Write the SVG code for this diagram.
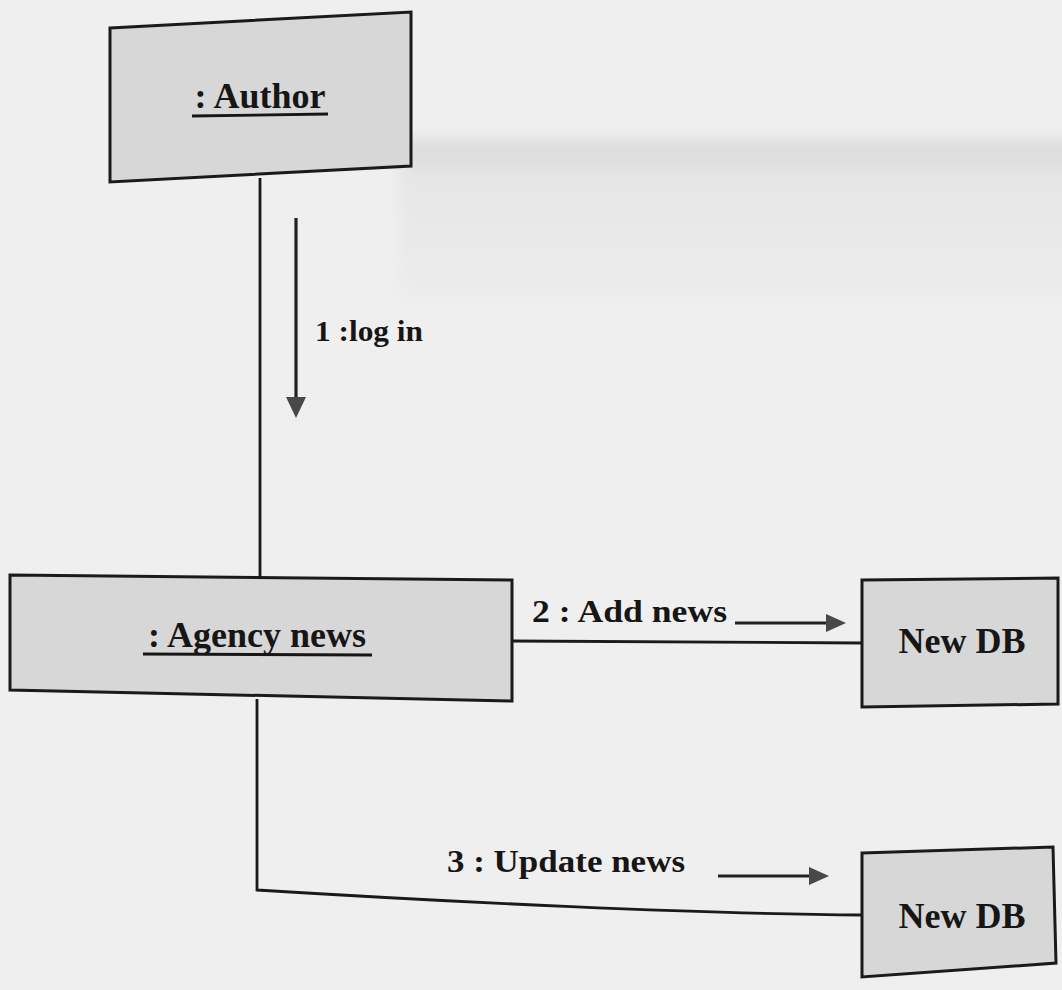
<svg xmlns="http://www.w3.org/2000/svg" width="1062" height="990" viewBox="0 0 1062 990">
  <style>
    .box { fill: #d7d7d7; stroke: #1a1a1a; stroke-width: 3; stroke-linejoin: miter; }
    .link { fill: none; stroke: #1a1a1a; stroke-width: 2.8; }
    .msg { fill: none; stroke: #222222; stroke-width: 3.2; }
    .head { fill: #484848; }
    .name { font-family: "Liberation Serif", "Times New Roman", serif; font-weight: bold; fill: #161616; }
    .label { font-family: "Liberation Serif", "Times New Roman", serif; font-weight: bold; fill: #161616; }
    .uline { stroke: #161616; stroke-width: 2.8; }
  </style>
  <defs>
    <filter id="soft" x="-10%" y="-50%" width="120%" height="200%">
      <feGaussianBlur stdDeviation="8"/>
    </filter>
    <linearGradient id="band" x1="0" y1="0" x2="0" y2="1">
      <stop offset="0" stop-color="#d9d9d9"/>
      <stop offset="0.25" stop-color="#e6e6e6"/>
      <stop offset="1" stop-color="#ececec"/>
    </linearGradient>
  </defs>

  <!-- page -->
  <rect x="0" y="0" width="1062" height="990" fill="#efefef"/>
  <rect x="400" y="140" width="680" height="160" fill="url(#band)" filter="url(#soft)"/>

  <!-- connectors -->
  <g id="connectors">
    <line class="link" x1="260" y1="178" x2="260" y2="578"/>
    <line class="link" x1="512" y1="641" x2="862" y2="643"/>
    <path class="link" d="M257,699 V890 C 450,902 700,914 862,915"/>

    <!-- message 1 -->
    <line class="msg" x1="296" y1="218" x2="296" y2="398"/>
    <polygon class="head" points="286,397 306,397 296,418"/>
    <text class="label" x="315" y="341" font-size="30" textLength="108" lengthAdjust="spacingAndGlyphs">1 :log in</text>

    <!-- message 2 -->
    <text class="label" x="532" y="622" font-size="32" textLength="195" lengthAdjust="spacingAndGlyphs">2 : Add news</text>
    <line class="msg" x1="735" y1="623" x2="828" y2="623"/>
    <polygon class="head" points="826,614 846,623 826,632"/>

    <!-- message 3 -->
    <text class="label" x="447" y="872" font-size="32" textLength="238" lengthAdjust="spacingAndGlyphs">3 : Update news</text>
    <line class="msg" x1="718" y1="876" x2="811" y2="876"/>
    <polygon class="head" points="809,867 829,876 809,885"/>
  </g>

  <!-- objects -->
  <g id="author">
    <polygon class="box" points="110,28 411,12 411,166 110,182"/>
    <text class="name" x="260" y="108" font-size="36" text-anchor="middle">: Author</text>
    <line class="uline" x1="192" y1="116" x2="328" y2="114"/>
  </g>

  <g id="agency-news">
    <polygon class="box" points="10,575 512,580 512,701 10,690"/>
    <text class="name" x="257" y="647" font-size="36" text-anchor="middle">: Agency news</text>
    <line class="uline" x1="143" y1="654" x2="372" y2="655"/>
  </g>

  <g id="new-db-1">
    <polygon class="box" points="862,580 1058,578 1058,704 862,707"/>
    <text class="name" x="962" y="653" font-size="36" text-anchor="middle">New DB</text>
  </g>

  <g id="new-db-2">
    <polygon class="box" points="862,853 1053,847 1056,963 862,977"/>
    <text class="name" x="962" y="928" font-size="36" text-anchor="middle">New DB</text>
  </g>
</svg>
